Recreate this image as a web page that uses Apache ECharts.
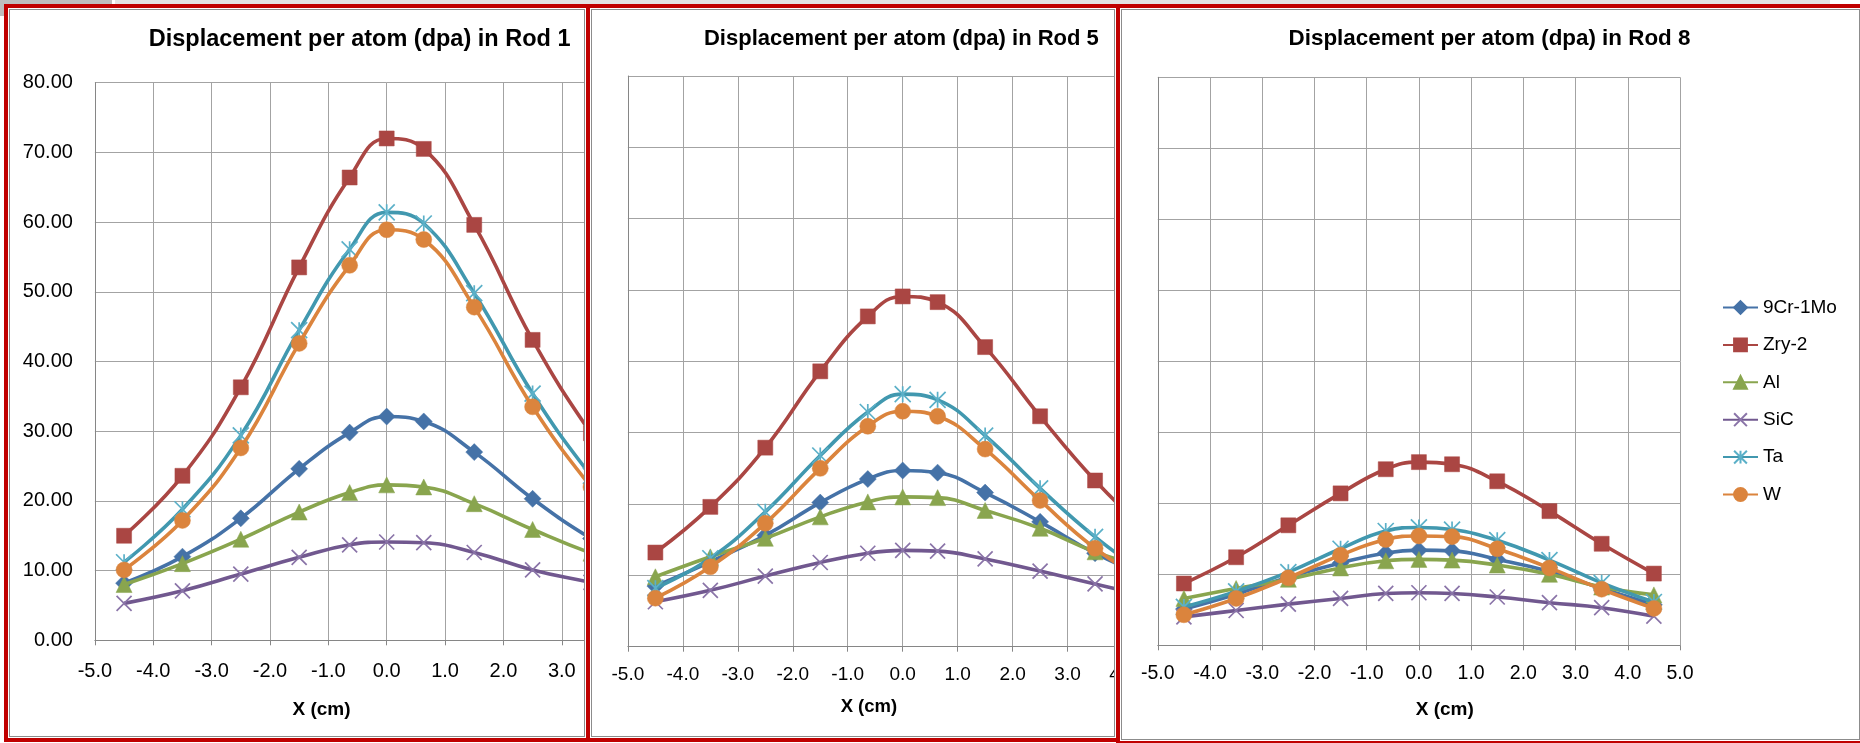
<!DOCTYPE html>
<html>
<head>
<meta charset="utf-8">
<script src="https://cdn.jsdelivr.net/npm/echarts@6/dist/echarts.min.js"></script>
<style>
html,body{margin:0;padding:0;width:1860px;height:743px;overflow:hidden;background:#fff;position:relative}
.panel{position:absolute;box-sizing:border-box;border:4px solid #C00000;background:#fff;overflow:hidden}
.inner{position:absolute;left:1px;top:1px;right:1px;bottom:1px;border:1px solid #8c8c8c;overflow:hidden;background:#fff}
.chart{position:absolute;width:1860px;height:743px}
</style>
</head>
<body>
<div style="position:absolute;left:0;top:0;width:112px;height:16px;background:#bebebe"></div>
<div style="position:absolute;left:115px;top:0;width:1715px;height:4px;background:#e3e3e3"></div>
<div class="panel" id="p1" style="left:4px;top:4px;width:586px;height:738px"><div class="inner"><div class="chart" id="c1"></div></div></div>
<div class="panel" id="p2" style="left:586px;top:4px;width:534px;height:738px"><div class="inner"><div class="chart" id="c2"></div></div></div>
<div class="panel" id="p3" style="left:1116px;top:4px;width:749px;height:741px"><div class="inner"><div class="chart" id="c3"></div></div></div>
<script>
// ---------------- data ----------------
const xCm = [-4.5, -3.5, -2.5, -1.5, -0.635, 0, 0.635, 1.5, 2.5, 3.5, 4.5];
const materials = ['9Cr-1Mo', 'Zry-2', 'Al', 'SiC', 'Ta', 'W'];
const xAxisRange = [-5, 5, 1];   // min, max, step  (tick labels -5.0 ... 5.0)
const yAxisRange = [0, 80, 10];  // min, max, step  (tick labels 0.00 ... 80.00)

const rod1_9Cr1Mo = [8.2, 12.0, 17.5, 24.6, 29.8, 32.1, 31.4, 27.0, 20.3, 14.6, 10.0];
const rod1_Zry2   = [15.0, 23.6, 36.3, 53.5, 66.4, 72.0, 70.5, 59.6, 43.1, 29.7, 18.5];
const rod1_Al     = [8.0, 11.0, 14.5, 18.4, 21.2, 22.3, 22.0, 19.6, 15.9, 12.5, 9.8];
const rod1_SiC    = [5.3, 7.1, 9.5, 11.9, 13.7, 14.1, 14.0, 12.6, 10.1, 8.3, 6.4];
const rod1_Ta     = [11.2, 18.8, 29.4, 44.5, 56.1, 61.4, 59.8, 49.8, 35.4, 23.6, 13.5];
const rod1_W      = [10.1, 17.2, 27.6, 42.6, 53.8, 58.9, 57.5, 47.8, 33.5, 22.0, 12.2];

const rod5_9Cr1Mo = [8.5, 11.9, 15.6, 20.2, 23.5, 24.7, 24.4, 21.6, 17.5, 13.1, 9.6];
const rod5_Zry2   = [13.2, 19.6, 27.9, 38.6, 46.3, 49.1, 48.3, 42.0, 32.3, 23.3, 15.8];
const rod5_Al     = [9.8, 12.6, 15.2, 18.2, 20.3, 21.0, 20.9, 19.1, 16.6, 13.3, 11.0];
const rod5_SiC    = [6.3, 7.9, 9.9, 11.8, 13.1, 13.5, 13.4, 12.3, 10.6, 8.8, 7.0];
const rod5_Ta     = [8.2, 12.4, 18.9, 26.8, 32.9, 35.4, 34.6, 29.6, 22.2, 15.4, 9.8];
const rod5_W      = [6.8, 11.2, 17.3, 25.0, 30.9, 33.0, 32.3, 27.7, 20.5, 13.8, 8.8];

const rod8_9Cr1Mo = [5.1, 7.2, 9.6, 11.6, 13.0, 13.4, 13.3, 12.1, 10.4, 8.0, 5.7];
const rod8_Zry2   = [8.7, 12.4, 16.9, 21.4, 24.8, 25.8, 25.5, 23.1, 18.9, 14.3, 10.1];
const rod8_Al     = [6.6, 8.0, 9.3, 10.9, 11.9, 12.1, 12.0, 11.3, 10.0, 8.2, 7.1];
const rod8_SiC    = [4.0, 4.9, 5.8, 6.6, 7.3, 7.4, 7.3, 6.8, 6.0, 5.3, 4.1];
const rod8_Ta     = [5.4, 7.6, 10.3, 13.6, 16.1, 16.6, 16.3, 14.8, 12.0, 8.8, 6.1];
const rod8_W      = [4.3, 6.6, 9.5, 12.7, 14.9, 15.4, 15.3, 13.6, 10.9, 7.9, 5.2];

const titles = ['Displacement per atom (dpa) in Rod 1', 'Displacement per atom (dpa) in Rod 5', 'Displacement per atom (dpa) in Rod 8'];
const xAxisTitle = 'X (cm)';

// ---------------- styling ----------------
const FONT = "'Liberation Sans', Arial, sans-serif";
const colors = ['#4572A7', '#AA4643', '#89A54E', '#71588F', '#4198AF', '#DB843D'];
const markerStroke = ['#4572A7', '#AA4643', '#89A54E', '#8A74A8', '#5BB0C8', '#DB843D'];
const symbols = ['diamond', 'rect', 'triangle',
  'path://M0,0L10,10M10,0L0,10',
  'path://M0,0L10,10M10,0L0,10M5,0L5,10',
  'circle'];
const symbolSizes = [17, 15, 16, 15, 16, 16];
const strokeSymbol = [false, false, false, true, true, false];

function buildSeries(rows) {
  return rows.map((vals, i) => ({
    name: materials[i],
    type: 'line',
    smooth: 0.45,
    data: xCm.map((x, k) => [x, vals[k]]),
    symbol: symbols[i],
    symbolSize: symbolSizes[i],
    showSymbol: true,
    lineStyle: { color: colors[i], width: 3.6 },
    itemStyle: strokeSymbol[i]
      ? { color: markerStroke[i], borderColor: markerStroke[i], borderWidth: 1.7 }
      : { color: colors[i], borderColor: colors[i], borderWidth: 0.5 },
    emphasis: { disabled: true },
    animation: false,
    z: 2 + i
  }));
}

function buildOption(cfg) {
  return {
    animation: false,
    backgroundColor: 'transparent',
    title: [
      { text: cfg.title, left: cfg.titleX, top: cfg.titleY, textAlign: 'center', textVerticalAlign: 'middle', padding: 0,
        textStyle: { fontFamily: FONT, fontWeight: 'bold', fontSize: cfg.titleSize, color: '#000' } },
      { text: xAxisTitle, left: cfg.axTitleX, top: cfg.axTitleY, textAlign: 'center', textVerticalAlign: 'middle', padding: 0,
        textStyle: { fontFamily: FONT, fontWeight: 'bold', fontSize: cfg.axTitleSize, color: '#000' } }
    ],
    legend: cfg.legend ? {
      show: true, orient: 'vertical', left: 1722, top: 298, padding: 0,
      itemWidth: 35, itemHeight: 16, itemGap: 18.4,
      data: materials,
      textStyle: { fontFamily: FONT, fontSize: 19, color: '#000' }
    } : { show: false },
    grid: { left: cfg.grid[0], top: cfg.grid[1], width: cfg.grid[2], height: cfg.grid[3], containLabel: false },
    xAxis: {
      type: 'value', min: xAxisRange[0], max: xAxisRange[1], interval: xAxisRange[2],
      axisLine: { show: true, onZero: false, lineStyle: { color: '#868686', width: 1 } },
      axisTick: { show: true, length: 5, lineStyle: { color: '#868686' } },
      axisLabel: { show: true, formatter: v => v.toFixed(1), fontFamily: FONT, fontSize: cfg.tickSize, color: '#000', margin: cfg.xLabelMargin },
      splitLine: { show: true, lineStyle: { color: '#a3a3a3', width: 1 } }
    },
    yAxis: {
      type: 'value', min: yAxisRange[0], max: yAxisRange[1], interval: yAxisRange[2],
      axisLine: { show: true, onZero: false, lineStyle: { color: '#868686', width: 1 } },
      axisTick: { show: false },
      axisLabel: { show: cfg.yLabels, formatter: v => v.toFixed(2), fontFamily: FONT, fontSize: 20, color: '#000', margin: 22 },
      splitLine: { show: true, lineStyle: { color: '#a3a3a3', width: 1 } }
    },
    series: buildSeries(cfg.rows)
  };
}

const panels = [
  { id: 'c1', panel: 'p1', title: titles[0], titleX: 359.6, titleY: 40, titleSize: 23.5,
    axTitleX: 321.5, axTitleY: 710, axTitleSize: 19, tickSize: 20, xLabelMargin: 21,
    grid: [94.9, 82.7, 583.6, 557.6], yLabels: true, legend: false,
    rows: [rod1_9Cr1Mo, rod1_Zry2, rod1_Al, rod1_SiC, rod1_Ta, rod1_W] },
  { id: 'c2', panel: 'p2', title: titles[1], titleX: 901.4, titleY: 39, titleSize: 22,
    axTitleX: 868.9, axTitleY: 707.3, axTitleSize: 18.5, tickSize: 19, xLabelMargin: 19,
    grid: [627.9, 76, 549.6, 570.7], yLabels: false, legend: false,
    rows: [rod5_9Cr1Mo, rod5_Zry2, rod5_Al, rod5_SiC, rod5_Ta, rod5_W] },
  { id: 'c3', panel: 'p3', title: titles[2], titleX: 1489.5, titleY: 39, titleSize: 22.4,
    axTitleX: 1444.8, axTitleY: 710, axTitleSize: 19, tickSize: 19.5, xLabelMargin: 18,
    grid: [1157.8, 77.3, 522.2, 568], yLabels: false, legend: true,
    rows: [rod8_9Cr1Mo, rod8_Zry2, rod8_Al, rod8_SiC, rod8_Ta, rod8_W] }
];

panels.forEach(cfg => {
  const p = document.getElementById(cfg.panel);
  const el = document.getElementById(cfg.id);
  // place chart canvas so that its coordinates equal page coordinates
  const off = 4 + 1 + 1;
  el.style.left = (-(p.offsetLeft + off)) + 'px';
  el.style.top = (-(p.offsetTop + off)) + 'px';
  const chart = echarts.init(el, null, { renderer: 'canvas', width: 1860, height: 743 });
  chart.setOption(buildOption(cfg));
});
</script>
</body>
</html>
